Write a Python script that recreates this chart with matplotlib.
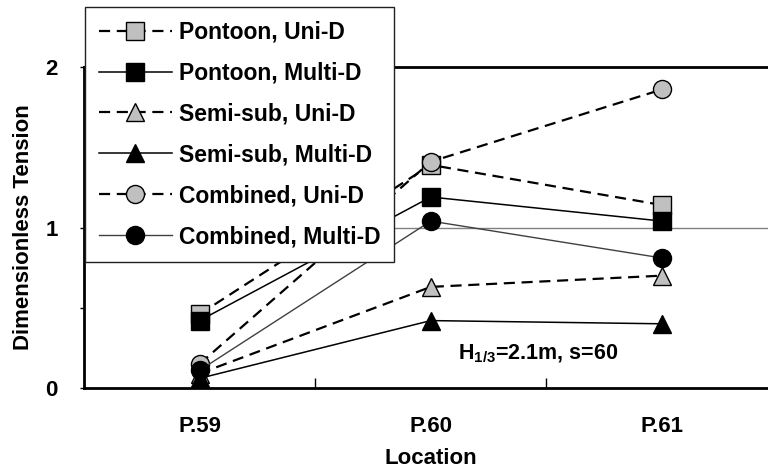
import matplotlib.pyplot as plt
import numpy as np

plt.rcParams['font.family'] = 'Liberation Sans'
plt.rcParams['font.weight'] = 'bold'
plt.rcParams['mathtext.fontset'] = 'custom'
plt.rcParams['mathtext.rm'] = 'Liberation Sans:bold'
plt.rcParams['mathtext.bf'] = 'Liberation Sans:bold'

# mooring line tension at each location, normalised
locations = ['P.59', 'P.60', 'P.61']
pontoon_uni = [0.46, 1.39, 1.14]
pontoon_multi = [0.42, 1.19, 1.04]
semisub_uni = [0.09, 0.63, 0.70]
semisub_multi = [0.06, 0.42, 0.40]
combined_uni = [0.15, 1.41, 1.86]
combined_multi = [0.11, 1.04, 0.81]

fig = plt.figure(figsize=(7.68, 4.72), dpi=100)
ax = fig.add_axes([84 / 768, 84 / 472, 693.5 / 768, 321 / 472])
x = np.arange(len(locations))

gray = '#c0c0c0'
dash = (5, 3)
kw = dict(markersize=13, markeredgewidth=1.0, markeredgecolor='black')

ax.plot(x, pontoon_uni, color='black', lw=1.6, dashes=dash, marker='s',
        markerfacecolor=gray, label='Pontoon, Uni-D', **kw)
ax.plot(x, pontoon_multi, color='black', lw=1.1, marker='s',
        markerfacecolor='black', label='Pontoon, Multi-D', **kw)
ax.plot(x, semisub_uni, color='black', lw=1.6, dashes=dash, marker='^',
        markerfacecolor=gray, label='Semi-sub, Uni-D', **kw)
ax.plot(x, semisub_multi, color='black', lw=1.1, marker='^',
        markerfacecolor='black', label='Semi-sub, Multi-D', **kw)
ax.plot(x, combined_uni, color='black', lw=1.6, dashes=dash, marker='o',
        markerfacecolor=gray, label='Combined, Uni-D', **kw)
ax.plot(x, combined_multi, color='#404040', lw=1.0, marker='o',
        markerfacecolor='black', label='Combined, Multi-D', **kw)

ax.axhline(1, color='#808080', lw=1.0, zorder=0)

ax.set_xlim(-0.5, 2.5)
ax.set_ylim(0, 2)

# category labels between boundary ticks
ax.set_xticks([0.5, 1.5])
ax.set_xticklabels([])
ax.tick_params(axis='x', which='major', direction='in', length=7, width=1)
ax.set_xticks(x, minor=True)
ax.set_xticklabels(locations, minor=True, fontsize=16, fontweight='bold')
ax.tick_params(axis='x', which='minor', length=0, pad=20)

ax.set_yticks([0, 0.5, 1, 2])
ax.set_yticklabels(['0', '', '1', '2'], fontsize=16, fontweight='bold')
ax.tick_params(axis='y', direction='out', length=3, width=1, pad=16)

for side in ['left', 'bottom', 'top']:
    ax.spines[side].set_linewidth(2)
ax.spines['right'].set_visible(False)

ax.set_xlabel('Location', fontsize=16, fontweight='bold', labelpad=8)
ax.set_ylabel('Dimensionless Tension', fontsize=16, fontweight='bold', labelpad=8)

ax.text(1.12, 0.21, r'H$_{1/3}$=2.1m, s=60', fontsize=15.5, fontweight='bold',
        ha='left', va='center')

leg = fig.legend(loc='upper left', bbox_to_anchor=(85 / 768, 1 - 7 / 472),
                 prop={'size': 16.5, 'weight': 'bold'}, frameon=True, fancybox=False,
                 edgecolor='#202020', framealpha=1, borderpad=0.6,
                 handlelength=3.2, handletextpad=0.3, labelspacing=0.78,
                 borderaxespad=0)
leg.get_frame().set_linewidth(1.0)

fig.savefig('out.png', dpi=100)
